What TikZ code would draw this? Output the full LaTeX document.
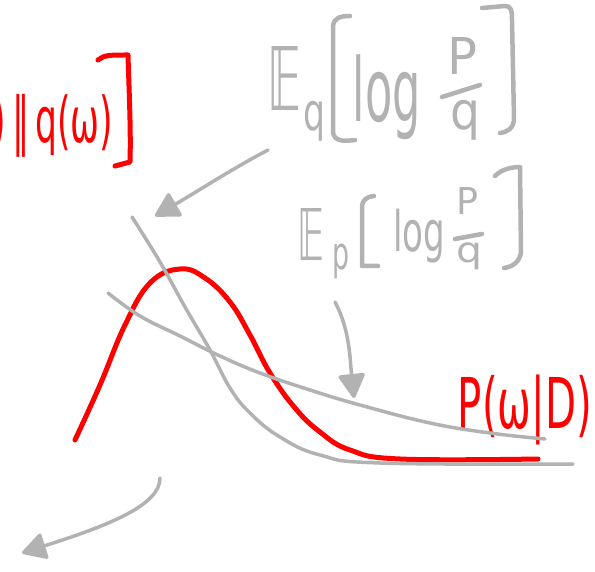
\documentclass[tikz,border=0pt]{standalone}
\usepackage{amssymb}
\usepackage{fontspec}
\setmainfont{DejaVu Sans}
\usetikzlibrary{arrows.meta}
\definecolor{sketchgray}{RGB}{178,178,178}
\definecolor{sketchred}{RGB}{255,0,0}
\begin{document}
\begin{tikzpicture}[x=1pt,y=-1pt,
  graycurve/.style={draw=sketchgray, line width=3.5pt, line cap=round, line join=round},
  redcurve/.style={draw=sketchred, line width=5pt, line cap=round, line join=round},
  graystroke/.style={draw=sketchgray, line width=4.5pt, line cap=round, line join=round},
  grayarrow/.style={graycurve, -{Triangle[length=26pt,width=28pt,round]}},
  graytext/.style={text=sketchgray, inner sep=0pt},
  redtext/.style={text=sketchred, inner sep=0pt}]
\useasboundingbox (0,0) rectangle (595,572);

% ---- formula E_q[log P/q]
\node[graytext] (e1) at (285,78) {\resizebox*{34pt}{64pt}{𝔼}};
\node[graytext] (e1sub) at (314,121) {\resizebox*{22pt}{40pt}{q}};
\node[graytext] (log1) at (387,97) {\resizebox*{68pt}{85pt}{log}};
\node[graytext] (num1) at (462,56) {\resizebox*{30pt}{37pt}{P}};
\node[graytext] (den1) at (465,120) {\resizebox*{30pt}{40pt}{q}};
\draw[graystroke] (442,97) -- (480,85);
\draw[graystroke] (350,16) .. controls (340,16) and (334,18) .. (333,26)
  -- (333,132) .. controls (334,140) and (340,142) .. (355,140);
\draw[graystroke] (482,8) -- (505,6) .. controls (511,6) and (512,10) .. (512,20)
  -- (514,118) .. controls (514,128) and (508,132) .. (500,133);

% ---- formula E_p[log P/q]
\node[graytext] (e2) at (311,234) {\resizebox*{27pt}{52pt}{𝔼}};
\node[graytext] (e2sub) at (341,261) {\resizebox*{17pt}{35pt}{p}};
\node[graytext] (log2) at (419,236) {\resizebox*{52pt}{54pt}{log}};
\node[graytext] (num2) at (467,201) {\resizebox*{22pt}{27pt}{P}};
\node[graytext] (den2) at (469,256) {\resizebox*{26pt}{27pt}{q}};
\draw[graystroke] (455,239) -- (482,234);
\draw[graystroke] (374,196) .. controls (366,197) and (362,200) .. (362,208)
  -- (362,266) -- (378,266);
\draw[graystroke] (495,176) .. controls (502,169) and (512,167) .. (520,167)
  -- (521,252) .. controls (520,262) and (512,267) .. (504,268);

% ---- red labels
\node[redtext] (kl) at (53,126) {\resizebox*{120pt}{63pt}{)\,‖\,q(ω)}};
\draw[redcurve] (98,60) .. controls (104,55) and (110,55) .. (128,55)
  .. controls (129,90) and (131,130) .. (130,162) -- (115,166);
\node[redtext] (pw) at (525,410) {\resizebox*{134pt}{70pt}{P(ω|D)}};

% ---- curves
\draw[redcurve] plot[smooth, tension=0.7] coordinates {
  (75,440) (100,385) (125,325) (150,283) (180,269) (205,278) (230,302)
  (250,335) (270,373) (295,408) (320,432) (350,450) (400,459) (538,459)};
\draw[graycurve] plot[smooth, tension=0.7] coordinates {
  (132,217) (160,262) (185,307) (210,350) (230,388) (250,413) (280,437)
  (320,455) (380,463) (573,464)};
\draw[graycurve] plot[smooth, tension=0.7] coordinates {
  (108,293) (140,316) (180,336) (220,356) (260,373) (310,390) (360,405)
  (430,423) (490,433) (545,439)};

% ---- arrows
\coordinate (a1s) at (268,150);
\coordinate (a1e) at (155,216);
\coordinate (a2s) at (335,302);
\coordinate (a2e) at (354,398);
\coordinate (a3s) at (160,478);
\coordinate (a3e) at (22,553);
\draw[grayarrow] (a1s) .. controls (230,170) and (200,190) .. (a1e);
\draw[grayarrow] (a2s) .. controls (350,330) and (350,360) .. (a2e);
\draw[grayarrow] (a3s) .. controls (160,505) and (110,525) .. (a3e);
\end{tikzpicture}
\end{document}
